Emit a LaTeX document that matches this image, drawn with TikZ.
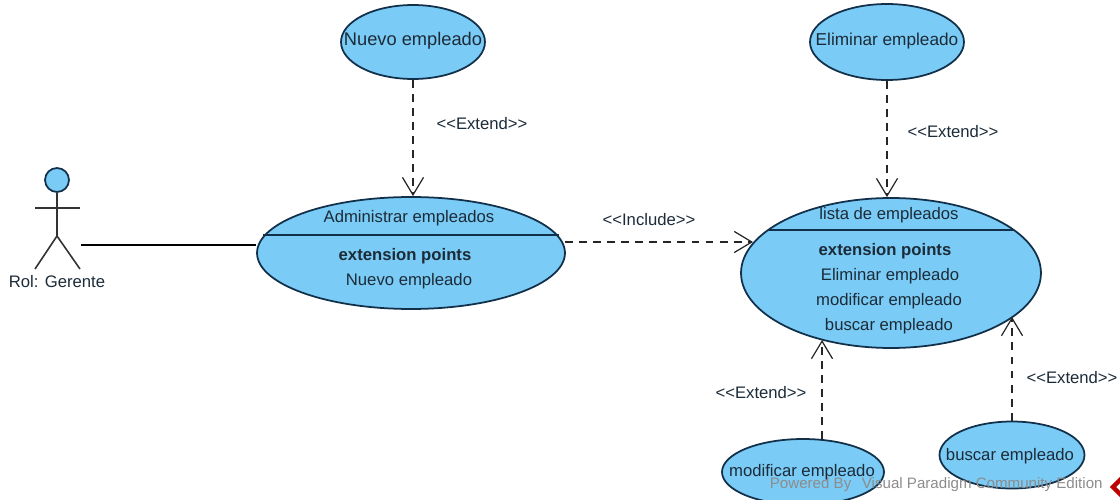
\documentclass[tikz,border=0pt]{standalone}
\usepackage{fontspec}
\setmainfont{Liberation Sans}
\usetikzlibrary{arrows.meta,shapes.geometric}
\definecolor{usecase}{HTML}{7ACBF5}
\definecolor{edge}{HTML}{12304A}
\definecolor{ink}{HTML}{1C2B38}
\begin{document}
\begin{tikzpicture}[x=0.02cm,y=-0.02cm,
   usecase/.style={ellipse,draw=edge,fill=usecase,line width=1pt,inner sep=0pt},
   label/.style={inner sep=0pt,text=ink,font=\fontsize{9.5}{11}\selectfont},
   extend/.style={black!85,dash pattern=on 4.5pt off 3.5pt,line width=0.8pt,-{Straight Barb[length=10pt,width=12pt,line width=0.7pt]}},
   stick/.style={black!80,line width=0.9pt}]
   \clip (0,0) rectangle (1120,500);
   \node[usecase,minimum width=2.88cm,minimum height=1.48cm] (nuevo) at (413,42) {};
   \node[usecase,minimum width=3.08cm,minimum height=1.52cm] (eliminar) at (887,42) {};
   \node[usecase,minimum width=6.16cm,minimum height=2.24cm] (admin) at (411,253) {};
   \node[usecase,minimum width=6.00cm,minimum height=3.00cm] (lista) at (891,273) {};
   \node[usecase,minimum width=3.24cm,minimum height=1.32cm] (modificar) at (803,472) {};
   \node[usecase,minimum width=2.90cm,minimum height=1.34cm] (buscar) at (1012,455) {};
   \draw[edge,line width=1pt] (263,235)--(559,235);
   \draw[edge,line width=1pt] (768,230)--(1013,230);
   \node[label,font=\fontsize{10.4}{12}\selectfont] (nuevotext) at (413,41) {Nuevo empleado};
   \node[label,font=\fontsize{9.8}{12}\selectfont] (eliminartext) at (887,41) {Eliminar empleado};
   \node[label] (modificartext) at (802,472) {modificar empleado};
   \node[label] (buscartext) at (1010,456) {buscar empleado};
   \node[label] (admintitle) at (409,218) {Administrar empleados};
   \node[label] (adminext) at (405,256) {\textbf{extension points}};
   \node[label] (adminpoint) at (409,281) {Nuevo empleado};
   \node[label] (listatitle) at (889,215) {lista de empleados};
   \node[label] (listaext) at (885,251) {\textbf{extension points}};
   \node[label] (listaone) at (890,276) {Eliminar empleado};
   \node[label] (listatwo) at (889,301) {modificar empleado};
   \node[label] (listathree) at (889,326) {buscar empleado};
   \node[usecase,circle,minimum size=0.48cm] (head) at (57,180) {};
   \coordinate (hip) at (57,236);
   \coordinate (armleft) at (35,208);
   \coordinate (armright) at (80,208);
   \coordinate (legleft) at (35,269);
   \coordinate (legright) at (80,269);
   \coordinate (actorend) at (81,245);
   \draw[stick] (head)--(hip);
   \draw[stick] (armleft)--(armright);
   \draw[stick] (legleft)--(hip)--(legright);
   \node[label] (gerente) at (57,282) {Rol: Gerente};
   \draw[black,line width=1pt] (actorend)--(admin.west |- actorend);
   \coordinate (includestart) at (565,242);
   \coordinate (includeend) at (753,242);
   \coordinate (modificarend) at (822,340);
   \coordinate (buscarend) at (1012,317);
   \coordinate (modificarstart) at (822,439);
   \draw[extend] (includestart)--(includeend);
   \draw[extend] (nuevo.south)--(nuevo.south |- admin.north);
   \draw[extend] (eliminar.south)--(eliminar.south |- lista.north);
   \draw[extend] (modificarstart)--(modificarend);
   \draw[extend] (buscar.north)--(buscarend);
   \node[label] (includelabel) at (649,220) {<{}<Include>{}>};
   \node[label] (extendone) at (482,124) {<{}<Extend>{}>};
   \node[label] (extendtwo) at (953,132) {<{}<Extend>{}>};
   \node[label] (extendthree) at (761,393) {<{}<Extend>{}>};
   \node[label] (extendfour) at (1072,378) {<{}<Extend>{}>};
   \node[inner sep=0pt,text=black!45,anchor=east,font=\fontsize{8.6}{10}\selectfont] (powered) at (1103,485) {Powered By\hspace{6pt}Visual Paradigm Community Edition};
   \node[diamond,draw=red!75!black,fill=white,line width=2.5pt,minimum size=0.48cm,inner sep=0pt] (logo) at (1124,487) {};
\end{tikzpicture}
\end{document}
